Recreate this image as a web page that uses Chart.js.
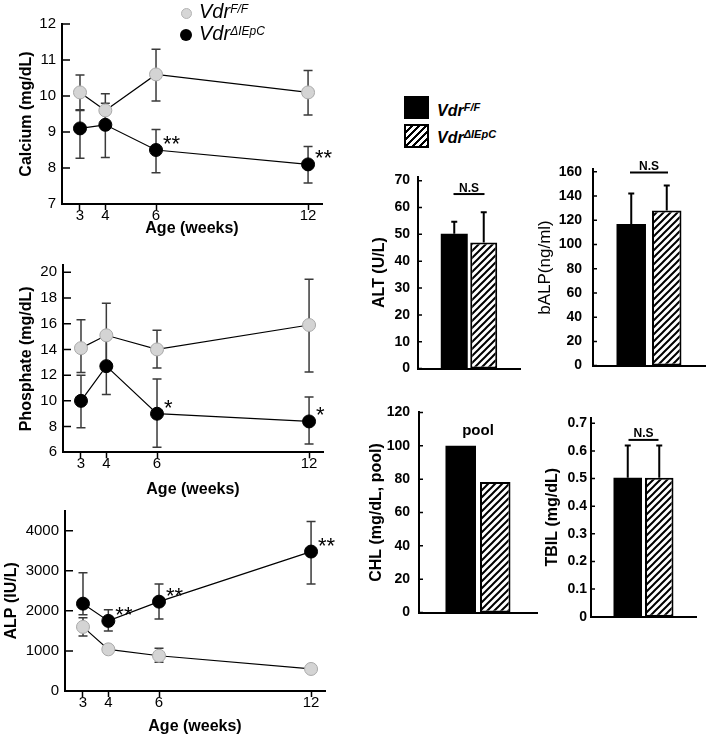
<!DOCTYPE html>
<html>
<head>
<meta charset="utf-8">
<script src="https://cdn.jsdelivr.net/npm/chart.js@4.4.1/dist/chart.umd.min.js"></script>
<style>
  body { margin: 0; background: #fff; }
  #fig { position: relative; width: 714px; height: 741px; overflow: hidden; font-family: Arial, "Liberation Sans", sans-serif; }
  #fig canvas { position: absolute; }
  .key { position: absolute; color: #000; white-space: nowrap; }
  .key sup { line-height: 0; }
  .dot { position: absolute; border-radius: 50%; box-sizing: border-box; }
  .box { position: absolute; box-sizing: border-box; }
</style>
</head>
<body>
<div id="fig">
  <canvas id="calcium" width="350" height="240" style="left:0;top:0"></canvas>
  <canvas id="phosphate" width="350" height="262" style="left:0;top:240px"></canvas>
  <canvas id="alp" width="350" height="251" style="left:0;top:490px"></canvas>
  <canvas id="alt" width="175" height="225" style="left:360px;top:160px"></canvas>
  <canvas id="balp" width="184" height="235" style="left:530px;top:150px"></canvas>
  <canvas id="chl" width="185" height="235" style="left:360px;top:395px"></canvas>
  <canvas id="tbil" width="179" height="235" style="left:535px;top:395px"></canvas>

  <!-- legend of the line panels -->
  <div class="dot" style="left:181px;top:8px;width:11px;height:11px;background:#d6d6d6;border:1px solid #b4b4b4"></div>
  <div class="key" style="left:199px;top:2px;font:italic 20px/19px Arial,'Liberation Sans',sans-serif">Vdr<sup style="font-size:12px;vertical-align:5px">F/F</sup></div>
  <div class="dot" style="left:180px;top:29px;width:12px;height:12px;background:#000"></div>
  <div class="key" style="left:199px;top:24px;font:italic 20px/19px Arial,'Liberation Sans',sans-serif">Vdr<sup style="font-size:12px;vertical-align:5px">ΔIEpC</sup></div>

  <!-- legend of the bar panels -->
  <div class="box" style="left:404px;top:96px;width:25px;height:23px;background:#000"></div>
  <div class="key" style="left:437px;top:103px;font:italic bold 16px/16px Arial,'Liberation Sans',sans-serif">Vdr<sup style="font-size:11px;vertical-align:5px">F/F</sup></div>
  <div class="box" style="left:404px;top:124px;width:25px;height:24px;border:2px solid #000;background:repeating-linear-gradient(135deg,#fff 0 3px,#000 3px 5px)"></div>
  <div class="key" style="left:437px;top:130px;font:italic bold 16px/16px Arial,'Liberation Sans',sans-serif">Vdr<sup style="font-size:11px;vertical-align:5px">ΔIEpC</sup></div>
</div>

<script>
// ---- data ----
const weeks = [3, 4, 6, 12];
const weekTicks = [3, 4, 6, 12];

// Calcium (mg/dL); ranges are [lower, upper] error bar ends
const calciumFF = [10.1, 9.6, 10.6, 10.1];
const calciumFFRange = [[9.62, 10.58], [9.13, 10.06], [9.86, 11.3], [9.47, 10.71]];
const calciumKO = [9.1, 9.2, 8.5, 8.1];
const calciumKORange = [[8.27, 9.6], [8.29, 9.8], [7.87, 9.07], [7.58, 8.6]];
const calciumKOStars = ['', '', '**', '**'];
const calciumTicks = [7, 8, 9, 10, 11, 12];

// Phosphate (mg/dL)
const phosFF = [14.1, 15.1, 14.0, 15.9];
const phosFFRange = [[12.2, 16.3], [12.6, 17.6], [12.55, 15.5], [12.25, 19.45]];
const phosKO = [10.0, 12.7, 9.0, 8.4];
const phosKORange = [[7.9, 12.0], [10.5, 14.9], [6.4, 11.7], [6.65, 10.3]];
const phosKOStars = ['', '', '*', '*'];
const phosTicks = [6, 8, 10, 12, 14, 16, 18, 20];

// ALP (IU/L)
const alpFF = [1600, 1040, 880, 550];
const alpFFRange = [[1370, 1830], [980, 1100], [715, 1070], [460, 640]];
const alpKO = [2180, 1750, 2230, 3480];
const alpKORange = [[1900, 2950], [1500, 2030], [1800, 2670], [2670, 4230]];
const alpKOStars = ['', '**', '**', '**'];
const alpTicks = [0, 1000, 2000, 3000, 4000];

// bar panels, [Vdr F/F, Vdr ΔIEpC]
const altMean = [50.2, 47.0];
const altUpper = [54.7, 58.2];
const altTicks = [0, 10, 20, 30, 40, 50, 60, 70];

const balpMean = [117, 128];
const balpUpper = [142, 148.7];
const balpTicks = [0, 20, 40, 60, 80, 100, 120, 140, 160];

const chlMean = [100, 78.3];
const chlTicks = [0, 20, 40, 60, 80, 100, 120];

const tbilMean = [0.503, 0.503];
const tbilUpper = [0.62, 0.62];
const tbilTicks = [0, 0.1, 0.2, 0.3, 0.4, 0.5, 0.6, 0.7];

// ---- drawing ----
const FONT = 'Arial, "Liberation Sans", sans-serif';
const BLACK = '#000';

// inward y ticks, error bars, significance stars and N.S / pool notes
const marks = {
  id: 'marks',
  defaults: { tick: 8, errColor: '#3a3a3a', errWidth: 1.5, cap: 4.5, both: true, note: null },
  beforeDatasetsDraw(chart, args, o) {
    const ctx = chart.ctx, y = chart.scales.y;
    ctx.save();
    ctx.strokeStyle = BLACK;
    ctx.lineWidth = 1.5;
    ctx.beginPath();
    y.ticks.forEach(t => {
      const py = y.getPixelForValue(t.value);
      ctx.moveTo(y.right, py);
      ctx.lineTo(y.right + o.tick, py);
    });
    ctx.stroke();

    ctx.strokeStyle = o.errColor;
    ctx.lineWidth = o.errWidth;
    chart.data.datasets.forEach((ds, di) => {
      if (!ds.range) return;
      chart.getDatasetMeta(di).data.forEach((el, i) => {
        const lo = y.getPixelForValue(ds.range[i][0]);
        const hi = y.getPixelForValue(ds.range[i][1]);
        ctx.beginPath();
        ctx.moveTo(el.x, lo);
        ctx.lineTo(el.x, hi);
        ctx.moveTo(el.x - o.cap, hi);
        ctx.lineTo(el.x + o.cap, hi);
        if (o.both) {
          ctx.moveTo(el.x - o.cap, lo);
          ctx.lineTo(el.x + o.cap, lo);
        }
        ctx.stroke();
      });
    });
    ctx.restore();
  },
  afterDatasetsDraw(chart, args, o) {
    const ctx = chart.ctx, y = chart.scales.y;
    ctx.save();
    ctx.fillStyle = BLACK;
    ctx.font = '22px ' + FONT;
    ctx.textAlign = 'left';
    ctx.textBaseline = 'alphabetic';
    chart.data.datasets.forEach((ds, di) => {
      if (!ds.stars) return;
      chart.getDatasetMeta(di).data.forEach((el, i) => {
        if (ds.stars[i]) ctx.fillText(ds.stars[i], el.x + 7, el.y + 1);
      });
    });

    const n = o.note;
    if (n) {
      const xs = chart.data.datasets.map((d, di) => chart.getDatasetMeta(di).data[0].x);
      const cx = (Math.min(...xs) + Math.max(...xs)) / 2;
      const py = y.getPixelForValue(n.at);
      ctx.textAlign = 'center';
      ctx.font = n.font;
      if (n.half) {
        ctx.strokeStyle = BLACK;
        ctx.lineWidth = 2;
        ctx.beginPath();
        ctx.moveTo(cx - n.half, py);
        ctx.lineTo(cx + n.half, py);
        ctx.stroke();
        ctx.fillText(n.text, cx, py - 2.5);
      } else {
        ctx.textBaseline = 'middle';
        ctx.fillText(n.text, cx, py);
      }
    }
    ctx.restore();
  }
};
Chart.register(marks);

function lineChart(id, p) {
  const series = (label, vals, range, fill, edge, stars) => ({
    label: label,
    data: weeks.map((w, i) => ({ x: w, y: vals[i] })),
    range: range,
    stars: stars,
    borderColor: BLACK,
    borderWidth: 1.2,
    pointRadius: 6.5,
    pointBackgroundColor: fill,
    pointBorderColor: edge,
    pointBorderWidth: 1
  });

  return new Chart(document.getElementById(id), {
    type: 'line',
    data: {
      datasets: [
        series('Vdr F/F', p.ff, p.ffRange, '#d4d4d4', '#a9a9a9', null),
        series('Vdr ΔIEpC', p.ko, p.koRange, BLACK, BLACK, p.stars)
      ]
    },
    options: {
      responsive: false,
      animation: false,
      events: [],
      layout: { padding: { left: 0, top: p.top, right: p.right, bottom: 0 } },
      plugins: {
        legend: { display: false },
        tooltip: { enabled: false },
        marks: { tick: 8, errColor: '#3a3a3a', errWidth: 1.5, cap: 4.5, both: true }
      },
      scales: {
        x: {
          type: 'linear',
          min: 2.29,
          max: 12.55,
          afterBuildTicks: s => { s.ticks = weekTicks.map(v => ({ value: v })); },
          afterFit: s => { s.height = p.xh; },
          grid: { drawOnChartArea: false, tickLength: 6, tickWidth: 1.5, tickColor: BLACK },
          border: { color: BLACK, width: 2 },
          ticks: { color: BLACK, padding: -3, maxRotation: 0, autoSkip: false, font: { family: FONT, size: 15 } },
          title: {
            display: true, text: 'Age (weeks)', color: BLACK,
            padding: { top: 0, bottom: p.xtp },
            font: { family: FONT, size: 16, weight: 'bold' }
          }
        },
        y: {
          min: p.min,
          max: p.max,
          afterBuildTicks: s => { s.ticks = p.ticks.map(v => ({ value: v })); },
          afterFit: s => { s.width = p.yw; },
          grid: { display: false, drawTicks: false },
          border: { color: BLACK, width: 2 },
          ticks: { color: BLACK, padding: 6, autoSkip: false, callback: v => String(v), font: { family: FONT, size: 15 } },
          title: {
            display: true, text: p.title, color: BLACK,
            padding: { top: p.ytp, bottom: 0 },
            font: { family: FONT, size: 16, weight: 'bold' }
          }
        }
      }
    }
  });
}

function hatchPattern() {
  const s = 7;
  const c = document.createElement('canvas');
  c.width = s;
  c.height = s;
  const g = c.getContext('2d');
  g.fillStyle = '#fff';
  g.fillRect(0, 0, s, s);
  g.strokeStyle = '#000';
  g.lineWidth = 2;
  g.beginPath();
  g.moveTo(-1, s + 1); g.lineTo(s + 1, -1);
  g.moveTo(-1, 1); g.lineTo(1, -1);
  g.moveTo(s - 1, s + 1); g.lineTo(s + 1, s - 1);
  g.stroke();
  return g.createPattern(c, 'repeat');
}
const hatch = hatchPattern();

function barChart(id, p) {
  const bar = (label, i, bg, bw) => ({
    label: label,
    data: [p.mean[i]],
    range: p.upper ? [[p.mean[i], p.upper[i]]] : null,
    backgroundColor: bg,
    borderColor: BLACK,
    borderWidth: bw,
    borderSkipped: false,
    categoryPercentage: p.cat,
    barPercentage: p.bar
  });

  return new Chart(document.getElementById(id), {
    type: 'bar',
    data: {
      labels: [p.title],
      datasets: [bar('Vdr F/F', 0, BLACK, 0), bar('Vdr ΔIEpC', 1, hatch, 2)]
    },
    options: {
      responsive: false,
      animation: false,
      events: [],
      layout: { padding: { left: 0, top: p.top, right: p.right, bottom: 0 } },
      plugins: {
        legend: { display: false },
        tooltip: { enabled: false },
        marks: { tick: 4, errColor: BLACK, errWidth: 2, cap: 3, both: false, note: p.note }
      },
      scales: {
        x: {
          afterFit: s => { s.height = p.xh; },
          grid: { display: false, drawTicks: false },
          border: { color: BLACK, width: 2 },
          ticks: { display: false }
        },
        y: {
          min: 0,
          max: p.max,
          afterBuildTicks: s => { s.ticks = p.ticks.map(v => ({ value: v })); },
          afterFit: s => { s.width = p.yw; },
          grid: { display: false, drawTicks: false },
          border: { color: BLACK, width: 2 },
          ticks: { color: BLACK, padding: p.tp, autoSkip: false, callback: v => String(v), font: { family: FONT, size: 14, weight: 'bold' } },
          title: {
            display: true, text: p.title, color: BLACK,
            padding: { top: p.ytp, bottom: 0 },
            font: p.tfont || { family: FONT, size: 16, weight: 'bold' }
          }
        }
      }
    }
  });
}

lineChart('calcium', {
  ff: calciumFF, ffRange: calciumFFRange, ko: calciumKO, koRange: calciumKORange, stars: calciumKOStars,
  min: 7, max: 12, ticks: calciumTicks, title: 'Calcium (mg/dL)',
  top: 24, right: 28, xh: 36, xtp: 1.4, yw: 62, ytp: 17.4
});

lineChart('phosphate', {
  ff: phosFF, ffRange: phosFFRange, ko: phosKO, koRange: phosKORange, stars: phosKOStars,
  min: 6, max: 20.55, ticks: phosTicks, title: 'Phosphate (mg/dL)',
  top: 25.2, right: 27, xh: 49.7, xtp: 2.4, yw: 63, ytp: 17.4
});

lineChart('alp', {
  ff: alpFF, ffRange: alpFFRange, ko: alpKO, koRange: alpKORange, stars: alpKOStars,
  min: 0, max: 4500, ticks: alpTicks, title: 'ALP (IU/L)',
  top: 20.7, right: 25, xh: 50, xtp: 4.4, yw: 65, ytp: 2.4
});

barChart('alt', {
  mean: altMean, upper: altUpper, max: 71.5, ticks: altTicks, title: 'ALT (U/L)',
  top: 16.6, right: 15, xh: 12.3, yw: 58, ytp: 10.4, tp: 8, cat: 0.578, bar: 0.915,
  note: { text: 'N.S', at: 65, half: 15.5, font: 'bold 12px ' + FONT }
});

barChart('balp', {
  mean: balpMean, upper: balpUpper, max: 162, ticks: balpTicks, title: 'bALP(ng/ml)',
  top: 13.4, right: 9, xh: 11.7, yw: 63, ytp: 4.8, tp: 11, cat: 0.634, bar: 0.83,
  tfont: { family: FONT, size: 17, weight: 'normal' },
  note: { text: 'N.S', at: 159.5, half: 19, font: 'bold 12px ' + FONT }
});

barChart('chl', {
  mean: chlMean, upper: null, max: 120, ticks: chlTicks, title: 'CHL (mg/dL, pool)',
  top: 16, right: 8, xh: 14.7, yw: 59, ytp: 7.4, tp: 9, cat: 0.585, bar: 0.884,
  note: { text: 'pool', at: 108.8, font: 'bold 15px ' + FONT }
});

barChart('tbil', {
  mean: tbilMean, upper: tbilUpper, max: 0.72, ticks: tbilTicks, title: 'TBIL (mg/dL)',
  top: 22.8, right: 18, xh: 13.3, yw: 56, ytp: 7.7, tp: 4, cat: 0.6, bar: 0.905,
  note: { text: 'N.S', at: 0.64, half: 15, font: 'bold 12px ' + FONT }
});
</script>
</body>
</html>
